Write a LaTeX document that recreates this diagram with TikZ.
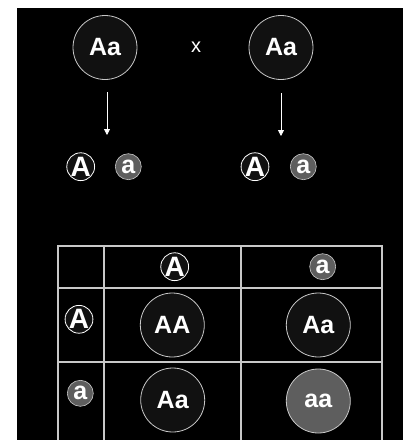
\documentclass[tikz,border=0pt]{standalone}
\usepackage{fontspec}
\setmainfont{Liberation Sans}
\usetikzlibrary{arrows.meta}
\definecolor{dk}{HTML}{111111}
\definecolor{gr}{HTML}{5E5E5E}
\definecolor{ln}{HTML}{C8C8C8}
\begin{document}
\begin{tikzpicture}[x=1pt,y=-1pt,
  big/.style={circle,draw=ln,line width=0.8pt,fill=dk,minimum size=64pt,inner sep=0pt,text=white,font=\fontsize{25}{25}\selectfont\bfseries},
  bigg/.style={big,fill=gr},
  capA/.style={circle,draw=white,line width=0.8pt,fill=dk,minimum size=26pt,inner sep=0pt,text=white,font=\fontsize{28}{28}\selectfont\bfseries},
  smalla/.style={circle,draw=ln,line width=0.6pt,fill=gr,minimum size=26pt,inner sep=0pt,text=white,font=\fontsize{25}{25}\selectfont\bfseries},
  grid/.style={draw=ln,line width=1.3pt},
  arr/.style={draw=white,line width=0.8pt,-{Triangle[width=6pt,length=6pt]}}]
\useasboundingbox (0,0) rectangle (405,440);
\fill[white] (0,0) rectangle (405,440);
\fill[black] (17,8) rectangle (403,440);
% parents
\node[big] (p1) at (105,47.5) {Aa};
\node[big] (p2) at (281,47.5) {Aa};
\node[text=white,font=\fontsize{20}{20}\selectfont,anchor=base,inner sep=0pt] (x) at (196,52.7) {x};
% gametes
\node[capA] (g1A) at (80.7,166.7) {A};
\node[smalla] (g1a) at (128.3,166.7) {a};
\node[capA] (g2A) at (255,166.7) {A};
\node[smalla] (g2a) at (303.3,166.7) {a};
\coordinate (a1s) at (107,92);
\coordinate (a1e) at (107,135);
\coordinate (a2s) at (281,93);
\coordinate (a2e) at (281,136);
\draw[arr] (a1s) -- (a1e);
\draw[arr] (a2s) -- (a2e);
% table
\draw[grid,line width=2pt] (57.5,246) rectangle (382,441);
\draw[grid] (104,246) -- (104,441);
\draw[grid] (241,246) -- (241,441);
\draw[grid] (57.5,288) -- (382,288);
\draw[grid] (57.5,362) -- (382,362);
\node[capA] (hA) at (174.7,266.7) {A};
\node[smalla] (ha) at (322.7,266.7) {a};
\node[capA] (rA) at (79,319.3) {A};
\node[smalla] (ra) at (80.3,393.3) {a};
\node[big] (c11) at (172.3,325) {AA};
\node[big] (c12) at (318.3,325) {Aa};
\node[big] (c21) at (172.7,400) {Aa};
\node[bigg] (c22) at (318.3,401) {aa};
\end{tikzpicture}
\end{document}
